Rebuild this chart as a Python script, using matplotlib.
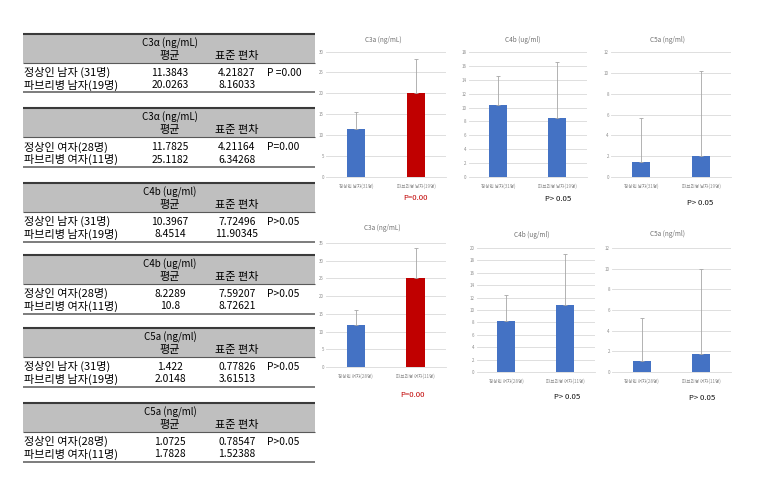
"""Complement levels table with bar charts (normal vs Fabry)."""
import matplotlib.pyplot as plt
from matplotlib.patches import Rectangle

plt.rcParams["font.family"] = ["Noto Sans CJK KR", "DejaVu Sans"]

W, H = 757, 486

# table data
markers = ["C3α (ng/mL)", "C3α (ng/mL)", "C4b (ug/ml)",
           "C4b (ug/ml)", "C5a (ng/ml)", "C5a (ng/ml)"]
normal_labels = ["정상인 남자 (31명)", "정상인 여자(28명)", "정상인 남자 (31명)",
                 "정상인 여자(28명)", "정상인 남자 (31명)", "정상인 여자(28명)"]
fabry_labels = ["파브리병 남자(19명)", "파브리병 여자(11명)", "파브리병 남자(19명)",
                "파브리병 여자(11명)", "파브리병 남자(19명)", "파브리병 여자(11명)"]
normal_mean = ["11.3843", "11.7825", "10.3967", "8.2289", "1.422", "1.0725"]
normal_sd = ["4.21827", "4.21164", "7.72496", "7.59207", "0.77826", "0.78547"]
fabry_mean = ["20.0263", "25.1182", "8.4514", "10.8", "2.0148", "1.7828"]
fabry_sd = ["8.16033", "6.34268", "11.90345", "8.72621", "3.61513", "1.52388"]
p_values = ["P =0.00", "P=0.00", "P>0.05", "P>0.05", "P>0.05", "P>0.05"]

# chart data (error bars as drawn in the charts)
chart_titles = ["C3a (ng/mL)", "C3a (ng/mL)", "C4b (ug/ml)",
                "C4b (ug/ml)", "C5a (ng/ml)", "C5a (ng/ml)"]
chart_err_normal = [4.2, 4.4, 4.1, 4.2, 4.2, 4.2]
chart_err_fabry = [8.1, 8.4, 8.1, 8.2, 8.2, 8.2]
chart_p = ["P=0.00", "P=0.00", "P> 0.05", "P> 0.05", "P> 0.05", "P> 0.05"]
chart_ymax = [30, 35, 18, 20, 12, 12]
chart_ystep = [5, 5, 2, 2, 2, 2]

BLUE = "#4472c4"
RED = "#c00000"

fig = plt.figure(figsize=(W / 100, H / 100), dpi=100)

# ---- table, drawn in pixel coordinates ----
tab = fig.add_axes([0, 0, 1, 1])
tab.set_xlim(0, W)
tab.set_ylim(H, 0)
tab.axis("off")

block_tops = [34, 108.5, 183, 255, 328, 403]
x0, x1 = 23, 315
for i, top in enumerate(block_tops):
    tab.add_patch(Rectangle((x0, top), x1 - x0, 29, fc="#bfbfbf", ec="none"))
    tab.hlines(top, x0, x1, color="#3a3a3a", lw=1.5)
    tab.hlines(top + 29, x0, x1, color="#595959", lw=0.8)
    tab.hlines(top + 58.5, x0, x1, color="#595959", lw=1.1)
    kw = dict(fontsize=7.4, va="center", color="#000000")
    tab.text(170, top + 9, markers[i], ha="center", **dict(kw, fontsize=7))
    tab.text(170, top + 21.5, "평균", ha="center", **dict(kw, fontsize=8))
    tab.text(237, top + 21.5, "표준 편차", ha="center", **dict(kw, fontsize=8))
    tab.text(23.5, top + 38.5, normal_labels[i], ha="left", **dict(kw, fontsize=8))
    tab.text(23.5, top + 51, fabry_labels[i], ha="left", **dict(kw, fontsize=8))
    tab.text(170, top + 38.5, normal_mean[i], ha="center", **kw)
    tab.text(170, top + 51, fabry_mean[i], ha="center", **kw)
    tab.text(237, top + 38.5, normal_sd[i], ha="center", **kw)
    tab.text(237, top + 51, fabry_sd[i], ha="center", **kw)
    tab.text(267, top + 38.5, p_values[i], ha="left", **kw)

# ---- charts ----
# plot area in pixels: left, right, y of zero, y of top
plot_boxes = [
    (326, 446, 177, 51.5),
    (326, 445.5, 367, 243),
    (468.5, 586.5, 177, 52),
    (476.5, 594.5, 372, 248),
    (611, 731, 177, 52),
    (612, 731, 372, 248),
]
title_pos = [(383, 40), (382, 228), (523, 40), (532, 235), (667, 40), (667, 234)]
p_pos = [(415, 198), (412, 395), (558, 199), (567, 397), (700, 203), (702, 398)]

for i, (l, r, yb, yt) in enumerate(plot_boxes):
    ax = fig.add_axes([l / W, 1 - yb / H, (r - l) / W, (yb - yt) / H])
    vals = [float(normal_mean[i]), float(fabry_mean[i])]
    colors = [BLUE, RED] if i < 2 else [BLUE, BLUE]
    ax.bar([0, 1], vals, width=0.31, color=colors, zorder=2,
           yerr=[[0, 0], [chart_err_normal[i], chart_err_fabry[i]]],
           error_kw=dict(ecolor="#a6a6a6", elinewidth=0.6, capsize=1.2,
                         capthick=0.6))
    ax.set_xlim(-0.5, 1.5)
    ax.set_ylim(0, chart_ymax[i])
    ax.set_yticks(range(0, chart_ymax[i] + 1, chart_ystep[i]))
    ax.grid(axis="y", color="#d9d9d9", lw=0.6, zorder=0)
    ax.set_axisbelow(True)
    for s in ["top", "left", "right"]:
        ax.spines[s].set_visible(False)
    ax.spines["bottom"].set_color("#d9d9d9")
    ax.spines["bottom"].set_linewidth(0.6)
    ax.set_xticks([0, 1], [normal_labels[i].replace(" (", "("), fabry_labels[i]])
    ax.tick_params(axis="x", length=0, pad=5, labelsize=3.3, labelcolor="#8c8c8c")
    ax.tick_params(axis="y", length=0, pad=1.5, labelsize=3.2, labelcolor="#8c8c8c")
    ax.patch.set_alpha(0)

    tx, ty = title_pos[i]
    fig.text(tx / W, 1 - ty / H, chart_titles[i], ha="center", va="center",
             fontsize=4.6, color="#707070")
    px, py = p_pos[i]
    fig.text(px / W, 1 - py / H, chart_p[i], ha="center", va="center",
             fontsize=5.6, color=RED if i < 2 else "#111111")

fig.savefig("out.png", dpi=100)
